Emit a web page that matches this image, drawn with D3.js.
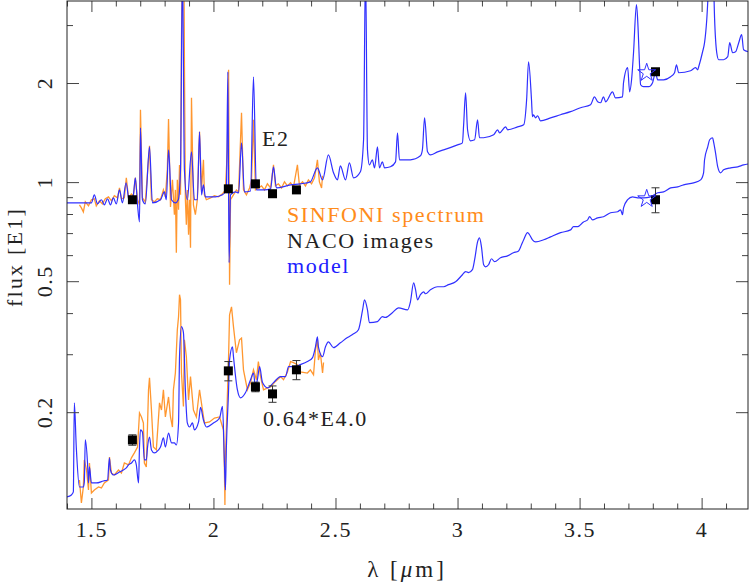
<!DOCTYPE html>
<meta charset="utf-8">
<head>
<style>
body { margin: 0; background: #fff; }
text { font-family: "Liberation Serif", "Times New Roman", serif; letter-spacing: 1.6px; }
.tick line { stroke: #444; }
.domain { display: none; }
</style>
</head>
<body>
<div id="chart"></div>
<script src="https://d3js.org/d3.v7.min.js"></script>
<script>

// model spectrum for E2 (wavelength in micron, flux in E1 units)
var modelE2 = [
  [1.400,0.865],[1.480,0.865],[1.500,0.865],[1.512,0.915],[1.525,0.859],[1.541,0.884],[1.553,0.853],
  [1.566,0.890],[1.578,0.853],[1.590,0.896],[1.602,0.859],[1.615,0.947],[1.627,0.865],[1.642,0.995],
  [1.656,0.865],[1.672,0.915],[1.680,1.030],[1.689,0.853],[1.697,0.757],[1.701,1.462],[1.709,0.884],
  [1.721,0.859],[1.738,1.280],[1.750,0.865],[1.783,0.884],[1.799,0.934],[1.807,0.884],[1.816,1.253],
  [1.828,0.884],[1.844,0.865],[1.856,0.884],[1.865,1.090],[1.873,4.5],[1.881,1.090],[1.893,0.884],
  [1.910,1.236],[1.922,0.884],[1.934,0.884],[1.943,1.422],[1.951,0.915],[1.959,0.981],[1.967,0.902],
  [2.008,0.902],[2.037,0.915],[2.053,0.947],[2.059,2.164],[2.064,0.569],[2.070,0.915],[2.090,0.934],
  [2.103,0.928],[2.115,1.316],[2.127,0.934],[2.152,0.940],[2.164,2.090],[2.176,0.947],[2.209,0.947],
  [2.234,0.954],[2.246,1.113],[2.258,0.960],[2.316,0.981],[2.356,0.988],[2.397,1.002],[2.426,1.105],
  [2.447,1.016],[2.471,1.210],[2.492,1.067],[2.508,1.016],[2.520,1.120],[2.541,1.016],[2.557,1.144],
  [2.574,1.030],[2.602,1.075],[2.615,1.345],[2.623,4.5],[2.631,1.253],[2.639,1.128],[2.651,1.169],
  [2.660,1.105],[2.672,1.280],[2.680,1.105],[2.692,1.152],[2.701,1.105],[2.725,1.113],[2.746,1.152],
  [2.754,1.412],[2.762,1.169],[2.807,1.169],[2.848,1.202],[2.856,1.253],[2.865,1.567],[2.877,1.236],
  [2.889,1.210],[2.918,1.236],[2.943,1.253],[3.000,1.298],[3.020,1.316],[3.025,1.493],[3.033,1.868],
  [3.041,1.442],[3.053,1.335],[3.070,1.345],[3.082,1.546],[3.090,1.364],[3.107,1.364],[3.148,1.392],
  [3.164,1.442],[3.172,1.412],[3.197,1.472],[3.205,1.442],[3.246,1.472],[3.271,1.493],[3.283,1.779],
  [3.291,2.321],[3.303,1.779],[3.307,1.580],[3.311,1.602],[3.320,1.567],[3.328,1.591],[3.340,1.535],
  [3.381,1.567],[3.422,1.602],[3.463,1.637],[3.504,1.683],[3.545,1.718],[3.561,1.816],[3.574,1.754],
  [3.586,1.742],[3.598,1.816],[3.607,1.754],[3.635,1.881],[3.647,1.803],[3.676,1.816],[3.680,2.004],
  [3.697,2.227],[3.705,1.881],[3.713,2.046],[3.721,2.472],[3.733,3.459],[3.738,3.114],[3.746,2.241],
  [3.750,1.976],[3.762,1.949],[3.783,1.949],[3.799,2.004],[3.811,2.149],[3.820,2.046],[3.844,2.046],
  [3.873,2.090],[3.889,2.149],[3.897,2.273],[3.906,2.149],[3.955,2.179],[3.975,2.227],[3.984,2.194],
  [3.988,2.241],[4.004,2.489],[4.012,2.652],[4.021,3.114],[4.029,4.0],[4.037,5.0],[4.049,4.0],
  [4.053,3.160],[4.062,2.472],[4.070,2.354],[4.090,2.354],[4.107,2.405],[4.115,2.652],[4.127,2.472],
  [4.139,2.489],[4.152,2.652],[4.164,2.804],[4.172,2.524],[4.193,2.489]
];

// SINFONI spectrum of E2
var sinfoniE2 = [
  [1.451,0.853],[1.459,0.835],[1.467,0.812],[1.475,0.871],[1.488,0.847],[1.500,0.884],[1.512,0.890],
  [1.520,0.847],[1.533,0.877],[1.545,0.859],[1.557,0.890],[1.570,0.902],[1.582,0.877],[1.594,0.909],
  [1.607,0.896],[1.615,0.960],[1.623,0.890],[1.635,0.896],[1.643,1.030],[1.652,0.896],[1.664,0.921],
  [1.672,0.909],[1.680,1.030],[1.689,0.884],[1.697,0.853],[1.701,1.659],[1.709,0.896],[1.721,0.871],
  [1.738,1.289],[1.746,0.884],[1.758,0.871],[1.770,0.890],[1.783,0.884],[1.795,0.947],[1.803,0.902],
  [1.811,1.090],[1.816,1.556],[1.824,0.841],[1.832,1.016],[1.840,0.796],[1.844,0.947],[1.848,0.610],
  [1.852,1.016],[1.857,0.824],[1.861,1.128],[1.865,0.915],[1.869,2.707],[1.873,4.5],[1.879,4.5],
  [1.881,2.354],[1.885,0.884],[1.889,0.742],[1.893,0.947],[1.898,0.692],[1.902,0.884],[1.906,0.632],
  [1.910,1.804],[1.918,0.853],[1.926,0.796],[1.934,0.884],[1.943,1.422],[1.951,0.947],[1.959,1.169],
  [1.963,0.915],[1.971,0.884],[1.988,0.896],[2.004,0.909],[2.020,0.902],[2.037,0.921],[2.049,0.947],
  [2.057,1.253],[2.062,2.194],[2.066,0.488],[2.070,0.884],[2.082,0.915],[2.094,0.947],[2.103,0.934],
  [2.115,1.625],[2.123,0.947],[2.135,0.915],[2.148,0.960],[2.156,1.016],[2.164,1.546],[2.172,0.947],
  [2.184,0.960],[2.197,0.974],[2.209,0.947],[2.221,0.988],[2.234,0.960],[2.246,1.128],[2.254,0.974],
  [2.266,0.988],[2.279,0.960],[2.291,1.002],[2.303,0.974],[2.316,0.995],[2.328,0.967],[2.344,1.128],
  [2.352,0.981],[2.365,1.002],[2.377,0.974],[2.389,1.016],[2.402,0.988],[2.414,1.030],[2.426,1.169],
  [2.434,1.002],[2.443,0.960],[2.447,1.045]
];

// model spectrum for E4, scaled by 0.64
var modelE4 = [
  [1.400,0.1106],[1.418,0.1121],[1.426,0.1145],[1.430,0.2134],[1.438,0.1567],[1.451,0.1185],[1.467,0.1185],
  [1.471,0.1228],[1.475,0.1647],[1.484,0.1402],[1.488,0.1219],[1.492,0.1364],[1.500,0.1219],[1.520,0.1219],
  [1.549,0.1236],[1.566,0.1245],[1.574,0.1453],[1.578,0.1335],[1.590,0.1289],[1.615,0.1316],[1.631,0.1335],
  [1.643,0.1354],[1.652,0.1383],[1.664,0.1402],[1.676,0.1432],[1.684,0.1383],[1.693,0.1219],[1.697,0.1567],
  [1.701,0.1766],[1.709,0.1742],[1.717,0.1432],[1.725,0.1432],[1.730,0.1567],[1.738,0.1681],[1.746,0.1536],
  [1.758,0.1504],[1.775,0.1536],[1.783,0.1567],[1.795,0.1670],[1.803,0.1567],[1.816,0.1729],[1.828,0.1613],
  [1.840,0.1613],[1.848,0.1590],[1.857,0.1855],[1.861,0.2950],[1.869,0.3640],[1.877,0.3490],[1.885,0.2340],
  [1.893,0.1855],[1.902,0.1803],[1.914,0.1855],[1.922,0.1766],[1.939,0.1868],[1.947,0.2067],[1.959,0.1894],
  [1.971,0.1803],[2.000,0.1855],[2.025,0.1920],[2.037,0.2082],[2.045,0.1402],[2.049,0.1161],[2.053,0.1567],
  [2.062,0.2340],[2.066,0.2880],[2.078,0.3160],[2.082,0.2950],[2.098,0.2340],[2.111,0.2210],[2.131,0.2290],
  [2.152,0.2510],[2.164,0.2630],[2.172,0.2387],[2.180,0.2510],[2.189,0.2750],[2.201,0.2460],[2.222,0.2370],
  [2.246,0.2460],[2.275,0.2564],[2.295,0.2564],[2.308,0.2750],[2.328,0.2750],[2.356,0.2790],[2.385,0.2850],
  [2.406,0.2930],[2.418,0.3160],[2.426,0.3390],[2.430,0.3160],[2.447,0.2950],[2.459,0.3160],[2.471,0.3270],
  [2.492,0.3140],[2.520,0.3250],[2.549,0.3370],[2.574,0.3460],[2.594,0.3560],[2.611,0.4090],[2.619,0.4390],
  [2.631,0.4090],[2.639,0.3740],[2.672,0.3770],[2.692,0.3900],[2.705,0.3880],[2.733,0.4010],[2.758,0.4150],
  [2.795,0.4090],[2.807,0.4330],[2.820,0.4940],[2.828,0.4710],[2.836,0.4390],[2.848,0.4550],[2.861,0.4640],
  [2.869,0.4580],[2.889,0.4710],[2.918,0.4810],[2.943,0.4810],[2.963,0.4880],[2.992,0.4980],[3.020,0.5230],
  [3.033,0.5350],[3.045,0.5310],[3.061,0.5420],[3.070,0.5810],[3.082,0.6580],[3.090,0.6770],[3.098,0.6360],
  [3.107,0.5610],[3.115,0.5530],[3.127,0.5610],[3.139,0.5850],[3.152,0.5730],[3.176,0.5890],[3.205,0.5970],
  [3.229,0.6100],[3.250,0.6180],[3.262,0.6450],[3.271,0.6680],[3.287,0.7020],[3.295,0.6920],[3.307,0.6680],
  [3.320,0.6580],[3.353,0.6680],[3.381,0.6820],[3.422,0.7020],[3.463,0.7160],[3.475,0.7320],[3.492,0.7320],
  [3.516,0.7570],[3.533,0.7680],[3.541,0.7850],[3.553,0.7680],[3.574,0.7790],[3.598,0.7850],[3.627,0.8070],
  [3.656,0.8130],[3.668,0.8240],[3.676,0.7960],[3.680,0.8350],[3.697,0.8840],[3.717,0.9020],[3.738,0.8960],
  [3.762,0.8960],[3.791,0.9020],[3.820,0.9280],[3.844,0.9340],[3.873,0.9600],[3.902,0.9670],[3.926,0.9810],
  [3.967,0.9950],[3.996,1.0160],[4.008,1.0670],[4.012,1.1690],[4.025,1.2800],[4.033,1.3450],[4.045,1.3640],
  [4.049,1.3260],[4.057,1.2270],[4.066,1.1130],[4.078,1.0670],[4.090,1.0900],[4.119,1.1050],[4.148,1.1130],
  [4.172,1.1280],[4.193,1.1360]
];

// SINFONI spectrum of E4, scaled by 0.64
var sinfoniE4 = [
  [1.451,0.1245],[1.459,0.1060],[1.467,0.1185],[1.471,0.1432],[1.480,0.1335],[1.488,0.1161],[1.492,0.1402],
  [1.500,0.1137],[1.512,0.1161],[1.529,0.1185],[1.541,0.1177],[1.553,0.1219],[1.570,0.1245],[1.574,0.1462],
  [1.582,0.1307],[1.594,0.1289],[1.611,0.1335],[1.623,0.1307],[1.635,0.1402],[1.652,0.1383],[1.664,0.1453],
  [1.676,0.1504],[1.689,0.1567],[1.697,0.1988],[1.705,0.1934],[1.713,0.1855],[1.717,0.1402],[1.725,0.1364],
  [1.734,0.2340],[1.738,0.2546],[1.746,0.2030],[1.754,0.1567],[1.766,0.1536],[1.779,0.2134],[1.787,0.2030],
  [1.795,0.2340],[1.803,0.1934],[1.816,0.2225],[1.824,0.1934],[1.832,0.1803],[1.836,0.2340],[1.844,0.2630],
  [1.852,0.3560],[1.857,0.3900],[1.861,0.4550],[1.865,0.4390],[1.869,0.2630],[1.877,0.2080],[1.881,0.3320],
  [1.889,0.2950],[1.898,0.2180],[1.906,0.2564],[1.918,0.2030],[1.930,0.1934],[1.943,0.2340],[1.955,0.2030],
  [1.963,0.1855],[1.984,0.1868],[2.004,0.1920],[2.025,0.1934],[2.041,0.1766],[2.045,0.1335],[2.047,0.1045],
  [2.049,0.1432],[2.062,0.2950],[2.066,0.3950],[2.074,0.4180],[2.082,0.3640],[2.094,0.3030],[2.107,0.3320],
  [2.115,0.3360],[2.123,0.2690],[2.139,0.2340],[2.152,0.2460],[2.164,0.2690],[2.176,0.2510],[2.184,0.2850],
  [2.193,0.2564],[2.205,0.2340],[2.222,0.2370],[2.234,0.2387],[2.254,0.2480],[2.275,0.2564],[2.287,0.2510],
  [2.303,0.2650],[2.316,0.2850],[2.328,0.2830],[2.344,0.2790],[2.356,0.2650],[2.385,0.2630],[2.397,0.2690],
  [2.410,0.2600],[2.418,0.3090],[2.426,0.3320],[2.430,0.2880],[2.438,0.3030],[2.447,0.2630],[2.451,0.2830]
];

// NACO photometry
var nacoLam = [1.668, 2.061, 2.172, 2.242, 2.340, 3.811];
var nacoE2 = [0.884, 0.954, 0.988, 0.922, 0.947, 2.164];
var nacoE4 = [0.1647, 0.267, 0.2387, 0.2273, 0.269, 0.884];
var nacoE4err = [0.006, 0.018, 0.008, 0.013, 0.018, 0.077];

// model photometry (open stars)
var starLam = [3.775, 3.775];
var starFlux = [2.15, 0.89];

var xMajor = [1.5, 2, 2.5, 3, 3.5, 4];
var xMinor = [1.4, 1.6, 1.7, 1.8, 1.9, 2.1, 2.2, 2.3, 2.4, 2.6, 2.7, 2.8, 2.9,
              3.1, 3.2, 3.3, 3.4, 3.6, 3.7, 3.8, 3.9, 4.1];
var yMajor = [0.2, 0.5, 1, 2];
var yMinor = [0.3, 0.4, 0.6, 0.7, 0.8, 0.9, 3];

var legendText = ["SINFONI spectrum", "NACO images", "model"];
var legendColor = ["#ff8c1a", "#222222", "#2020ff"];

var margin = {top: 1, right: 1, bottom: 78, left: 67},
    width = 749 - margin.left - margin.right,
    height = 587 - margin.top - margin.bottom;

var svg = d3.select("#chart")
  .append("svg")
    .attr("width", 749)
    .attr("height", 587)
  .append("g")
    .attr("transform", "translate(" + margin.left + "," + margin.top + ")");

var x = d3.scaleLinear().domain([1.4, 4.19]).range([0, width]);
var y = d3.scaleLog().domain([0.1016, 3.55]).range([height, 0]);

svg.append("clipPath").attr("id", "clip")
  .append("rect").attr("width", width).attr("height", height);

var plot = svg.append("g").attr("clip-path", "url(#clip)");

var line = d3.line()
  .x(function(d) { return x(d[0]); })
  .y(function(d) { return y(d[1]); });
var smooth = d3.line()
  .curve(d3.curveMonotoneX)
  .x(function(d) { return x(d[0]); })
  .y(function(d) { return y(d[1]); });

// spectra first, models on top
[sinfoniE2, sinfoniE4].forEach(function(s) {
  plot.append("path").datum(s)
    .attr("d", line)
    .attr("fill", "none")
    .attr("stroke", "#ff8c1a")
    .attr("stroke-opacity", 0.9)
    .attr("stroke-width", 1.3);
});
[modelE2, modelE4].forEach(function(s) {
  plot.append("path").datum(s)
    .attr("d", smooth)
    .attr("fill", "none")
    .attr("stroke", "#3030ff")
    .attr("stroke-width", 1.2);
});

// error bars on lower photometry
var eb = plot.selectAll(".err").data(nacoLam).enter().append("g").attr("class", "err");
eb.append("line")
  .attr("x1", function(d) { return x(d); })
  .attr("x2", function(d) { return x(d); })
  .attr("y1", function(d, i) { return y(nacoE4[i] - nacoE4err[i]); })
  .attr("y2", function(d, i) { return y(nacoE4[i] + nacoE4err[i]); })
  .attr("stroke", "#333");
[-1, 1].forEach(function(sg) {
  eb.append("line")
    .attr("x1", function(d) { return x(d) - 4; })
    .attr("x2", function(d) { return x(d) + 4; })
    .attr("y1", function(d, i) { return y(nacoE4[i] + sg * nacoE4err[i]); })
    .attr("y2", function(d, i) { return y(nacoE4[i] + sg * nacoE4err[i]); })
    .attr("stroke", "#333");
});

[nacoE2, nacoE4].forEach(function(fl) {
  plot.selectAll(null).data(nacoLam).enter().append("rect")
    .attr("x", function(d) { return x(d) - 4.5; })
    .attr("y", function(d, i) { return y(fl[i]) - 4.5; })
    .attr("width", 9).attr("height", 9)
    .attr("fill", "#000");
});

plot.selectAll(".star").data(starLam).enter().append("path")
  .attr("class", "star")
  .attr("d", d3.symbol(d3.symbolStar).size(100))
  .attr("transform", function(d, i) { return "translate(" + x(d) + "," + y(starFlux[i]) + ")"; })
  .attr("fill", "none")
  .attr("stroke", "#3030ff")
  .attr("stroke-width", 1);

// axes, ticks pointing inward on all four sides
function addX(gen, ty, size, vals, labels) {
  var a = gen(x).tickValues(vals).tickSize(size).tickPadding(12);
  a.tickFormat(labels ? function(d) { return String(d); } : "");
  return svg.append("g").attr("transform", "translate(0," + ty + ")").call(a);
}
var xb = addX(d3.axisBottom, height, -11, xMajor, true);
addX(d3.axisBottom, height, -5.5, xMinor, false);
addX(d3.axisTop, 0, -11, xMajor, false);
addX(d3.axisTop, 0, -5.5, xMinor, false);
xb.selectAll("text").attr("font-size", 22).attr("fill", "#222")
  .attr("font-family", "Liberation Serif").attr("dy", "0.71em");

function addY(gen, tx, size, vals) {
  svg.append("g").attr("transform", "translate(" + tx + ",0)")
    .call(gen(y).tickValues(vals).tickSize(size).tickFormat(""));
}
addY(d3.axisLeft, 0, -12, yMajor);
addY(d3.axisLeft, 0, -6, yMinor);
addY(d3.axisRight, width, -12, yMajor);
addY(d3.axisRight, width, -6, yMinor);

svg.selectAll(".ylab").data(yMajor).enter().append("text")
  .attr("transform", function(d) { return "translate(-15," + y(d) + ") rotate(-90)"; })
  .attr("text-anchor", "middle")
  .attr("font-size", 22)
  .attr("fill", "#222")
  .text(function(d) { return String(d); });

svg.append("rect")
  .attr("width", width).attr("height", height)
  .attr("fill", "none").attr("stroke", "#222").attr("stroke-width", 1);

// axis titles
svg.append("text")
  .attr("x", 340).attr("y", 576)
  .attr("text-anchor", "middle")
  .attr("font-size", 23).attr("fill", "#222")
  .style("letter-spacing", "3px")
  .html("λ [<tspan font-style='italic'>μ</tspan>m]");

svg.append("text")
  .attr("transform", "translate(-45,256) rotate(-90)")
  .attr("text-anchor", "middle")
  .attr("font-size", 22).attr("fill", "#222")
  .style("letter-spacing", "2.2px")
  .text("flux [E1]");

// curve labels
svg.append("text").attr("x", 195).attr("y", 145)
  .attr("font-size", 22).attr("fill", "#222").text("E2");
svg.append("text").attr("x", 196).attr("y", 425)
  .attr("font-size", 22).attr("fill", "#222").text("0.64*E4.0");

svg.selectAll(".leg").data(legendText).enter().append("text")
  .attr("x", 220)
  .attr("y", function(d, i) { return 221 + i * 25.5; })
  .attr("font-size", 22)
  .attr("fill", function(d, i) { return legendColor[i]; })
  .text(function(d) { return d; });

</script>
</body>
